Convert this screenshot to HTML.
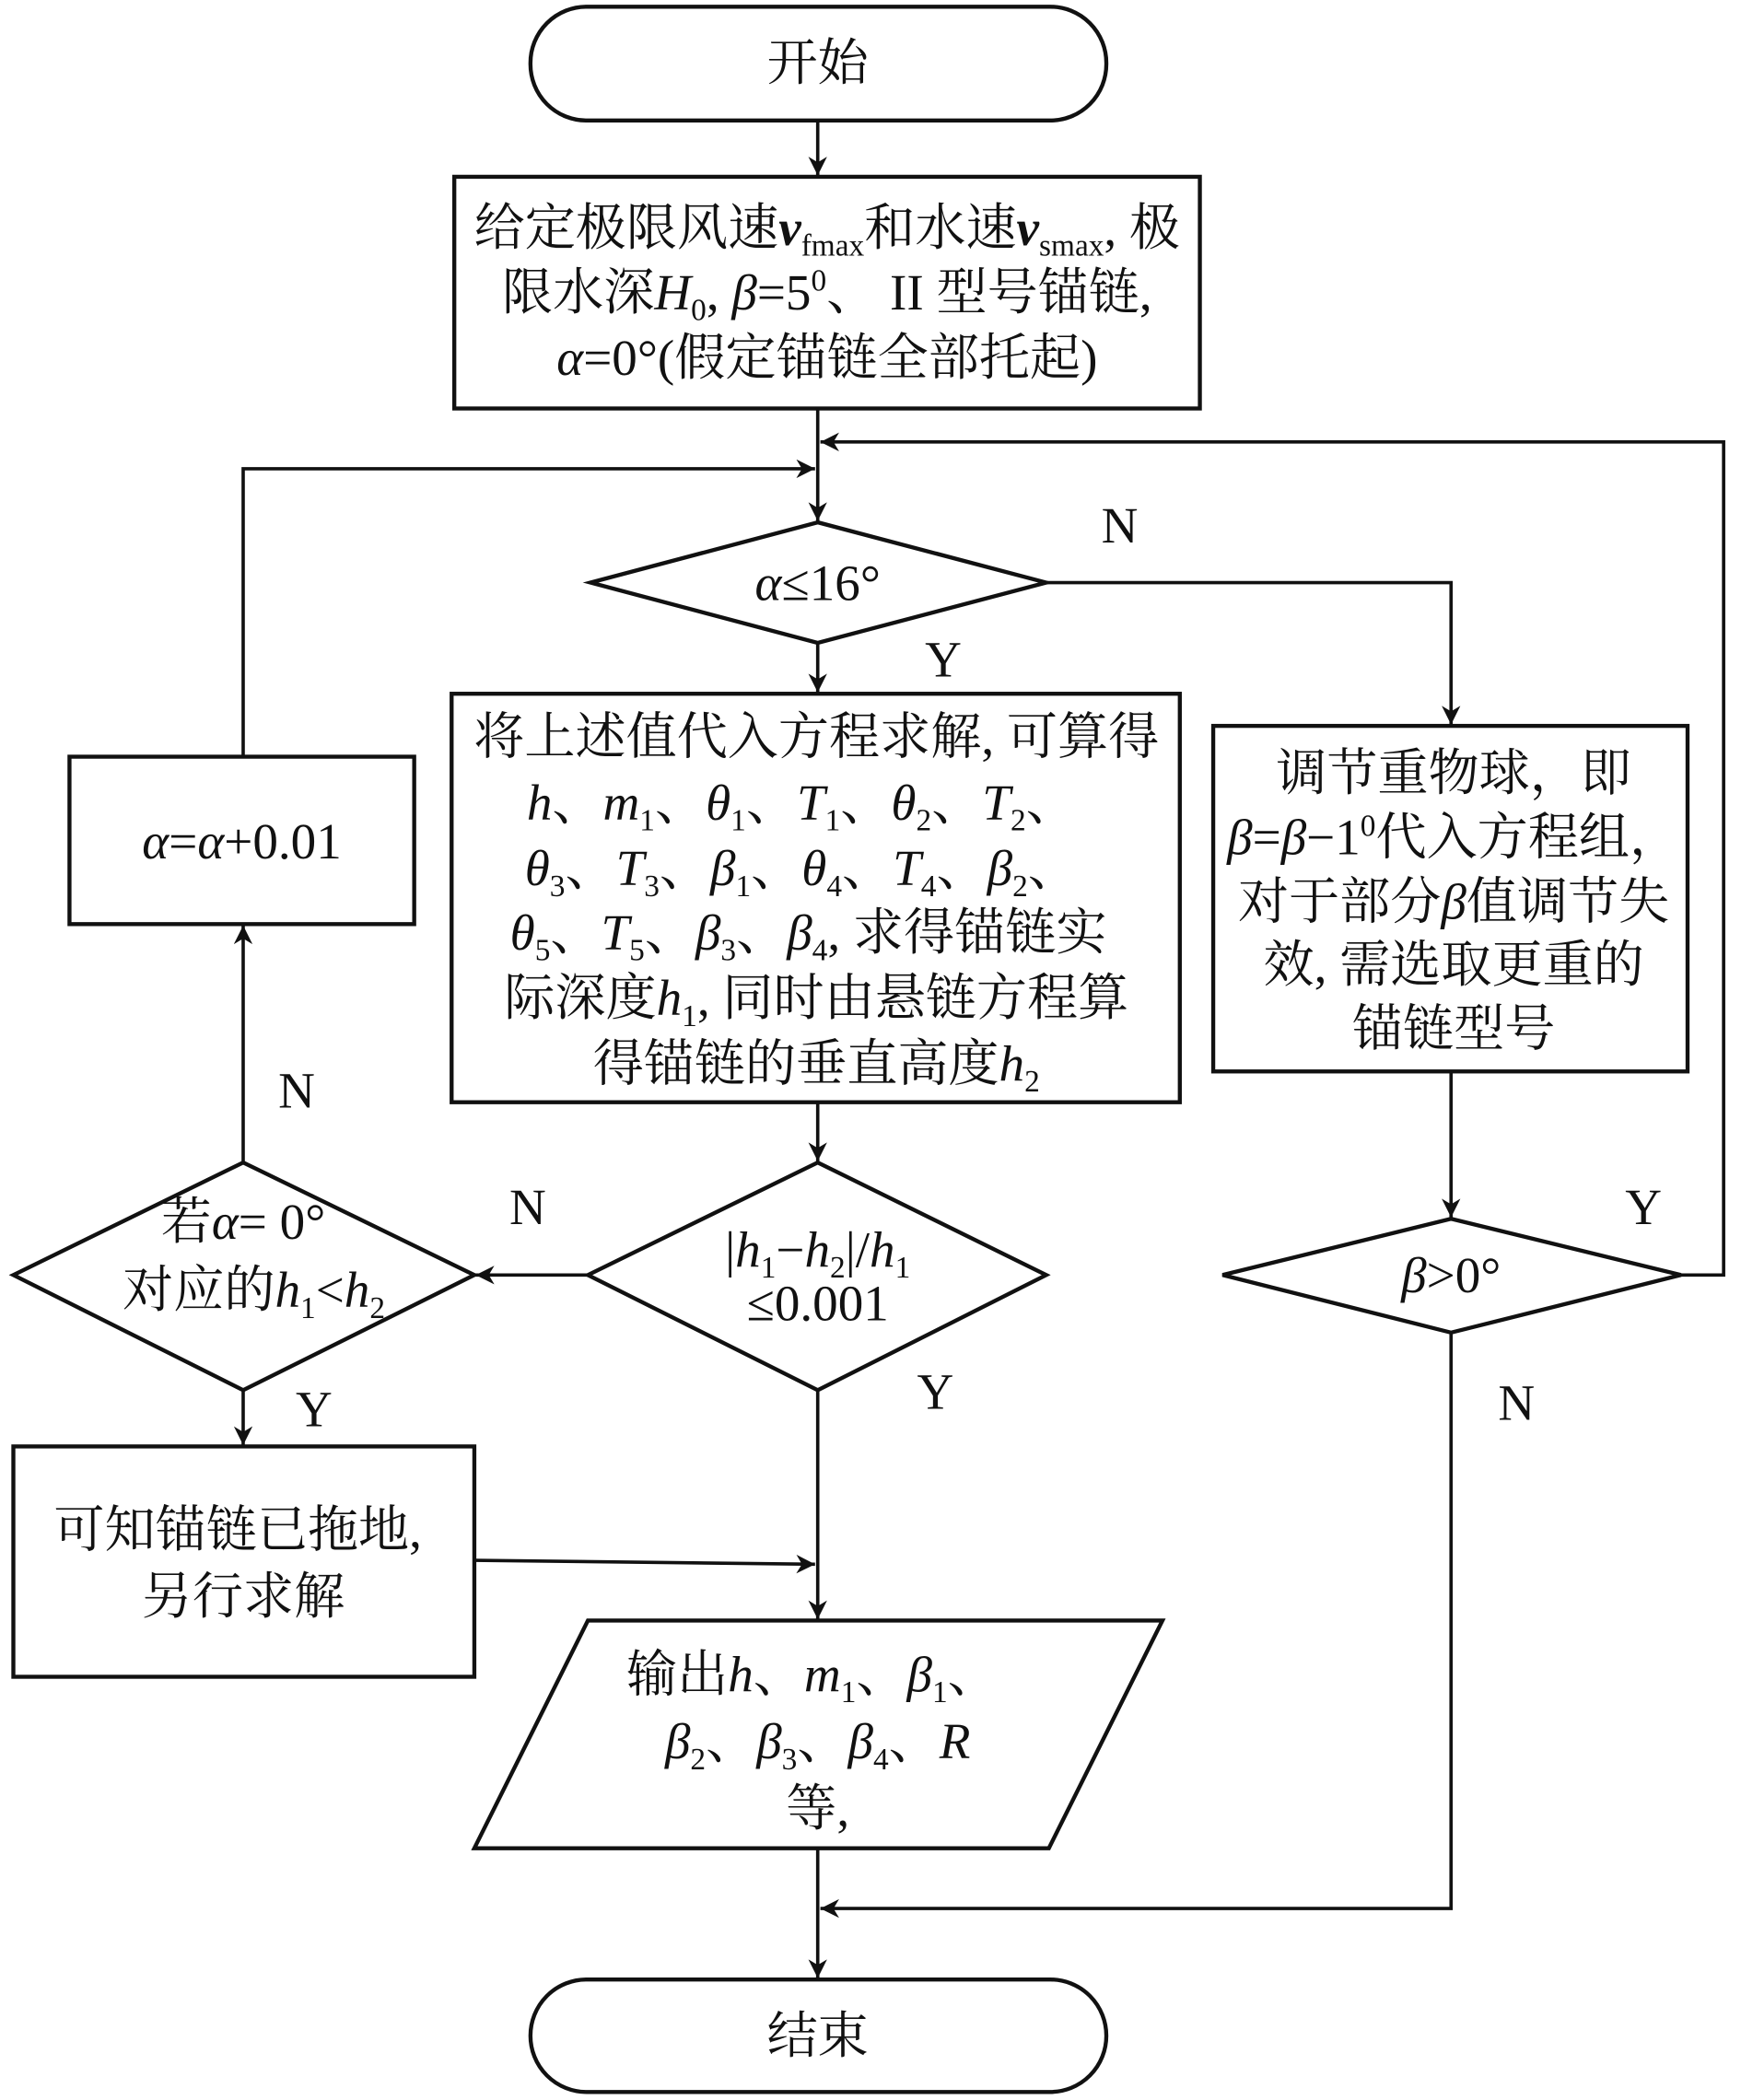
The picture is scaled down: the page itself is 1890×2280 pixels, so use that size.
<!DOCTYPE html>
<html><head><meta charset="utf-8"><style>
html,body{margin:0;padding:0;background:#fff;}
svg{display:block;}
text{font-family:"Liberation Serif","Noto Serif CJK SC","Noto Sans CJK SC",serif;font-size:38px;fill:#111;}
.i{font-style:italic;}
.s{font-size:23px;}
</style></head><body>
<svg width="1890" height="2280" viewBox="0 0 1303 1568" preserveAspectRatio="none" xmlns="http://www.w3.org/2000/svg">
<defs><marker id="a" viewBox="0 0 10 10" refX="10" refY="5" markerWidth="14" markerHeight="14" markerUnits="userSpaceOnUse" orient="auto"><path d="M0,0 L10,5 L0,10 L3,5 z" fill="#111"/></marker></defs>
<g fill="none" stroke="#111" stroke-width="3">
<rect x="397" y="5" width="431" height="85" rx="42"/>
<rect x="397" y="1478" width="431" height="84" rx="42"/>
<rect x="340" y="132" width="558" height="173"/>
<polygon points="442,435 612,390 783,435 612,480"/>
<rect x="338" y="518" width="545" height="305"/>
<rect x="908" y="542" width="355" height="258"/>
<polygon points="915,952 1086,910 1258,952 1086,995"/>
<polygon points="440,952 612,868 783,952 612,1038"/>
<polygon points="10,952 182,868 355,952 182,1038"/>
<rect x="52" y="565" width="258" height="125"/>
<rect x="10" y="1080" width="345" height="172"/>
<polygon points="440,1210 870,1210 785,1380 355,1380"/>
</g>
<g fill="none" stroke="#111" stroke-width="2.5">
<line x1="612" y1="90" x2="612" y2="131" marker-end="url(#a)"/>
<line x1="612" y1="305" x2="612" y2="389" marker-end="url(#a)"/>
<line x1="612" y1="480" x2="612" y2="517" marker-end="url(#a)"/>
<polyline points="783,435 1086,435 1086,541" marker-end="url(#a)"/>
<line x1="1086" y1="800" x2="1086" y2="909" marker-end="url(#a)"/>
<polyline points="1258,952 1290,952 1290,330 614,330" marker-end="url(#a)"/>
<polyline points="1086,995 1086,1425 614,1425" marker-end="url(#a)"/>
<line x1="612" y1="823" x2="612" y2="867" marker-end="url(#a)"/>
<line x1="440" y1="952" x2="356" y2="952" marker-end="url(#a)"/>
<line x1="182" y1="868" x2="182" y2="691" marker-end="url(#a)"/>
<polyline points="182,565 182,350 610,350" marker-end="url(#a)"/>
<line x1="182" y1="1038" x2="182" y2="1079" marker-end="url(#a)"/>
<line x1="355" y1="1165" x2="610" y2="1168" marker-end="url(#a)"/>
<line x1="612" y1="1038" x2="612" y2="1209" marker-end="url(#a)"/>
<line x1="612" y1="1380" x2="612" y2="1477" marker-end="url(#a)"/>
</g>
<text x="612" y="60" text-anchor="middle">开始</text>
<text x="612" y="1533" text-anchor="middle">结束</text>
<text x="619" y="183" text-anchor="middle">给定极限风速<tspan class="i" font-weight="bold">v</tspan><tspan class="s" dy="8">fmax</tspan><tspan dy="-8">和水速</tspan><tspan class="i" font-weight="bold">v</tspan><tspan class="s" dy="8">smax</tspan><tspan dy="-8">, 极</tspan></text>
<text x="619" y="231" text-anchor="middle">限水深<tspan class="i">H</tspan><tspan class="s" dy="8">0</tspan><tspan dy="-8">, </tspan><tspan class="i">β</tspan>=5<tspan class="s" dy="-14">0</tspan><tspan dy="14">、 II 型号锚链,</tspan></text>
<text x="619" y="280" text-anchor="middle"><tspan class="i">α</tspan>=0°(假定锚链全部托起)</text>
<text x="612" y="448" text-anchor="middle"><tspan class="i">α</tspan>≤16°</text>
<text x="611" y="563" text-anchor="middle">将上述值代入方程求解, 可算得</text>
<text x="600" y="612" text-anchor="middle"><tspan class="i">h</tspan>、<tspan class="i">m</tspan><tspan class="s" dy="8">1</tspan><tspan dy="-8">、</tspan><tspan class="i">θ</tspan><tspan class="s" dy="8">1</tspan><tspan dy="-8">、</tspan><tspan class="i">T</tspan><tspan class="s" dy="8">1</tspan><tspan dy="-8">、</tspan><tspan class="i">θ</tspan><tspan class="s" dy="8">2</tspan><tspan dy="-8">、</tspan><tspan class="i">T</tspan><tspan class="s" dy="8">2</tspan><tspan dy="-8">、</tspan></text>
<text x="600" y="661" text-anchor="middle"><tspan class="i">θ</tspan><tspan class="s" dy="8">3</tspan><tspan dy="-8">、</tspan><tspan class="i">T</tspan><tspan class="s" dy="8">3</tspan><tspan dy="-8">、</tspan><tspan class="i">β</tspan><tspan class="s" dy="8">1</tspan><tspan dy="-8">、</tspan><tspan class="i">θ</tspan><tspan class="s" dy="8">4</tspan><tspan dy="-8">、</tspan><tspan class="i">T</tspan><tspan class="s" dy="8">4</tspan><tspan dy="-8">、</tspan><tspan class="i">β</tspan><tspan class="s" dy="8">2</tspan><tspan dy="-8">、</tspan></text>
<text x="605" y="709" text-anchor="middle"><tspan class="i">θ</tspan><tspan class="s" dy="8">5</tspan><tspan dy="-8">、</tspan><tspan class="i">T</tspan><tspan class="s" dy="8">5</tspan><tspan dy="-8">、</tspan><tspan class="i">β</tspan><tspan class="s" dy="8">3</tspan><tspan dy="-8">、</tspan><tspan class="i">β</tspan><tspan class="s" dy="8">4</tspan><tspan dy="-8">, 求得锚链实</tspan></text>
<text x="611" y="758" text-anchor="middle">际深度<tspan class="i">h</tspan><tspan class="s" dy="8">1</tspan><tspan dy="-8">, 同时由悬链方程算</tspan></text>
<text x="611" y="807" text-anchor="middle">得锚链的垂直高度<tspan class="i">h</tspan><tspan class="s" dy="8">2</tspan></text>
<text x="1088" y="590" text-anchor="middle">调节重物球，即</text>
<text x="1088" y="638" text-anchor="middle"><tspan class="i">β</tspan>=<tspan class="i">β</tspan>−1<tspan class="s" dy="-14">0</tspan><tspan dy="14">代入方程组，</tspan></text>
<text x="1088" y="686" text-anchor="middle">对于部分<tspan class="i">β</tspan>值调节失</text>
<text x="1088" y="733" text-anchor="middle">效, 需选取更重的</text>
<text x="1088" y="781" text-anchor="middle">锚链型号</text>
<text x="1086" y="965" text-anchor="middle"><tspan class="i">β</tspan>&gt;0°</text>
<text x="612" y="946" text-anchor="middle">|<tspan class="i">h</tspan><tspan class="s" dy="8">1</tspan><tspan dy="-8">−</tspan><tspan class="i">h</tspan><tspan class="s" dy="8">2</tspan><tspan dy="-8">|/</tspan><tspan class="i">h</tspan><tspan class="s" dy="8">1</tspan></text>
<text x="612" y="986" text-anchor="middle">≤0.001</text>
<text x="182" y="925" text-anchor="middle">若<tspan class="i">α</tspan>= 0°</text>
<text x="190" y="976" text-anchor="middle">对应的<tspan class="i">h</tspan><tspan class="s" dy="8">1</tspan><tspan dy="-8">&lt;</tspan><tspan class="i">h</tspan><tspan class="s" dy="8">2</tspan></text>
<text x="181" y="641" text-anchor="middle"><tspan class="i">α</tspan>=<tspan class="i">α</tspan>+0.01</text>
<text x="178" y="1155" text-anchor="middle">可知锚链已拖地,</text>
<text x="182" y="1205" text-anchor="middle">另行求解</text>
<text x="608" y="1263" text-anchor="middle">输出<tspan class="i">h</tspan>、<tspan class="i">m</tspan><tspan class="s" dy="8">1</tspan><tspan dy="-8">、</tspan><tspan class="i">β</tspan><tspan class="s" dy="8">1</tspan><tspan dy="-8">、</tspan></text>
<text x="612" y="1313" text-anchor="middle"><tspan class="i">β</tspan><tspan class="s" dy="8">2</tspan><tspan dy="-8">、</tspan><tspan class="i">β</tspan><tspan class="s" dy="8">3</tspan><tspan dy="-8">、</tspan><tspan class="i">β</tspan><tspan class="s" dy="8">4</tspan><tspan dy="-8">、</tspan><tspan class="i">R</tspan></text>
<text x="612" y="1363" text-anchor="middle">等,</text>
<text x="706" y="505" text-anchor="middle">Y</text>
<text x="838" y="405" text-anchor="middle">N</text>
<text x="1230" y="914" text-anchor="middle">Y</text>
<text x="1135" y="1060" text-anchor="middle">N</text>
<text x="395" y="914" text-anchor="middle">N</text>
<text x="222" y="827" text-anchor="middle">N</text>
<text x="235" y="1065" text-anchor="middle">Y</text>
<text x="700" y="1052" text-anchor="middle">Y</text>
</svg>
</body></html>
